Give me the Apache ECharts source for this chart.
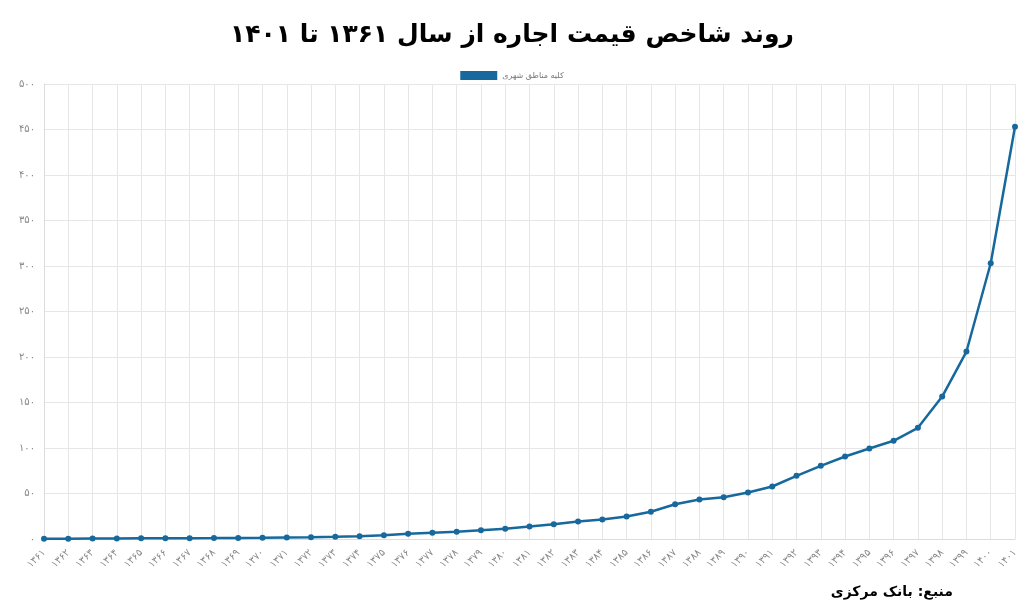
<!DOCTYPE html>
<html>
<head>
<meta charset="utf-8">
<script src="https://cdn.jsdelivr.net/npm/echarts@6/dist/echarts.min.js"></script>
<style>
html,body{margin:0;padding:0;background:#fff;}
#chart{width:1024px;height:614px;}
</style>
</head>
<body>
<div id="chart"></div>
<script>
var titleText = 'روند شاخص قیمت اجاره از سال ۱۳۶۱ تا ۱۴۰۱';
var sourceText = 'منبع: بانک مرکزی';
var seriesName = 'کلیه مناطق شهری';
var years = ['۱۳۶۱','۱۳۶۲','۱۳۶۳','۱۳۶۴','۱۳۶۵','۱۳۶۶','۱۳۶۷','۱۳۶۸','۱۳۶۹','۱۳۷۰',
             '۱۳۷۱','۱۳۷۲','۱۳۷۳','۱۳۷۴','۱۳۷۵','۱۳۷۶','۱۳۷۷','۱۳۷۸','۱۳۷۹','۱۳۸۰',
             '۱۳۸۱','۱۳۸۲','۱۳۸۳','۱۳۸۴','۱۳۸۵','۱۳۸۶','۱۳۸۷','۱۳۸۸','۱۳۸۹','۱۳۹۰',
             '۱۳۹۱','۱۳۹۲','۱۳۹۳','۱۳۹۴','۱۳۹۵','۱۳۹۶','۱۳۹۷','۱۳۹۸','۱۳۹۹','۱۴۰۰','۱۴۰۱'];
var rentIndex = [0.3, 0.4, 0.5, 0.6, 0.7, 0.8, 0.9, 1.0, 1.2, 1.4,
                 1.7, 2.0, 2.4, 2.9, 4.0, 5.9, 7.0, 8.1, 9.5, 11.3,
                 13.7, 16.3, 19.2, 21.4, 24.7, 29.9, 38.2, 43.4, 45.9, 51.1,
                 57.7, 69.4, 80.4, 90.7, 99.5, 107.9, 122.2, 156.5, 206.0, 303.0, 453.0];
var yTicks = {min: 0, max: 500, step: 50};

var faDigits = ['۰','۱','۲','۳','۴','۵','۶','۷','۸','۹'];
function toFa(v){ return String(v).replace(/[0-9]/g, function(d){ return faDigits[+d]; }); }

var chart = echarts.init(document.getElementById('chart'), null, {renderer:'canvas'});
chart.setOption({
  animation: false,
  backgroundColor: '#ffffff',
  title: [{
    text: titleText,
    left: 'center',
    top: 18,
    textStyle: {fontFamily: 'DejaVu Sans', fontWeight: 'bold', fontSize: 25, color: '#000'}
  }, {
    text: sourceText,
    right: 66,
    top: 580,
    textStyle: {fontFamily: 'DejaVu Sans', fontWeight: 'bold', fontSize: 14, color: '#000'}
  }],
  legend: {
    data: [seriesName],
    top: 66,
    left: 'center',
    itemWidth: 37,
    itemHeight: 9,
    icon: 'rect',
    itemGap: 6,
    textStyle: {fontFamily: 'DejaVu Sans', fontSize: 8, color: '#777'}
  },
  grid: {left: 44, right: 9, top: 84, bottom: 75, containLabel: false},
  xAxis: {
    type: 'category',
    data: years,
    boundaryGap: false,
    axisLine: {show: true, lineStyle: {color: '#dcdcdc'}},
    axisTick: {show: false},
    splitLine: {show: true, lineStyle: {color: '#e6e6e6', width: 1}},
    axisLabel: {interval: 0, rotate: 45, fontSize: 10, color: '#888', fontFamily: 'DejaVu Sans', margin: 12}
  },
  yAxis: {
    type: 'value',
    min: yTicks.min,
    max: yTicks.max,
    interval: yTicks.step,
    axisLine: {show: true, lineStyle: {color: '#dcdcdc'}},
    axisTick: {show: false},
    splitLine: {show: true, lineStyle: {color: '#e6e6e6', width: 1}},
    axisLabel: {fontSize: 10, color: '#888', fontFamily: 'DejaVu Sans', margin: 9, formatter: function(v){ return toFa(v); }}
  },
  series: [{
    name: seriesName,
    type: 'line',
    data: rentIndex,
    symbol: 'circle',
    symbolSize: 6,
    showSymbol: true,
    color: '#17699d',
    lineStyle: {width: 2.5, color: '#17699d'},
    itemStyle: {color: '#17699d'}
  }]
});
</script>
</body>
</html>
